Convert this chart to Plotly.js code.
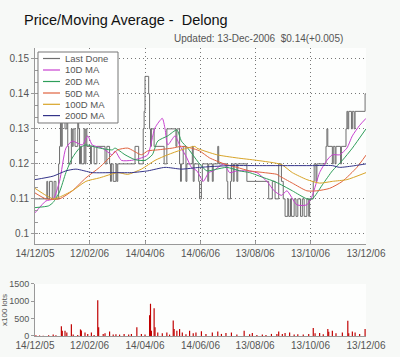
<!DOCTYPE html>
<html><head><meta charset="utf-8">
<script src="https://cdn.plot.ly/plotly-3.0.1.min.js"></script>
<style>html,body{margin:0;padding:0;background:#f7f9f7;}#chart{width:400px;height:357px;}</style>
</head><body><div id="chart"></div>
<script>
// ---- tick labels ----
const tickDates = ['2005-12-14','2006-02-12','2006-04-14','2006-06-14','2006-08-13','2006-10-13','2006-12-13'];
const tickLabels = ['14/12/05','12/02/06','14/04/06','14/06/06','13/08/06','13/10/06','13/12/06'];
const priceTicks = [0.10,0.11,0.12,0.13,0.14,0.15];
const priceTickLabels = ['0.1','0.11','0.12','0.13','0.14','0.15'];
const volTicks = [0,500,1000,1500];
const seriesNames = ['Last Done','10D MA','20D MA','50D MA','100D MA','200D MA'];
const seriesColors = ['#6e6e6e','#c840d0','#2e9e5a','#e0623e','#d8a428','#34348a'];

// ---- Last Done (step series) ----
const priceDates = ['2005-12-14','2005-12-27','2005-12-28','2005-12-30','2006-01-02','2006-01-04','2006-01-06','2006-01-09','2006-01-10','2006-01-11','2006-01-12','2006-01-13','2006-01-16','2006-01-18','2006-01-19','2006-01-20','2006-01-23','2006-01-24','2006-01-25','2006-01-27','2006-01-30','2006-01-31','2006-02-01','2006-02-02','2006-02-03','2006-02-06','2006-02-07','2006-02-08','2006-02-09','2006-02-13','2006-02-14','2006-02-17','2006-02-20','2006-03-01','2006-03-03','2006-03-06','2006-03-07','2006-03-08','2006-03-10','2006-03-13','2006-03-14','2006-03-15','2006-04-03','2006-04-07','2006-04-12','2006-04-13','2006-04-14','2006-04-18','2006-04-19','2006-04-20','2006-04-21','2006-04-24','2006-05-05','2006-05-08','2006-05-18','2006-05-19','2006-05-22','2006-05-23','2006-05-24','2006-05-26','2006-05-29','2006-05-30','2006-06-05','2006-06-06','2006-06-07','2006-06-12','2006-06-13','2006-06-15','2006-06-16','2006-06-22','2006-06-23','2006-06-27','2006-06-28','2006-07-03','2006-07-04','2006-07-13','2006-07-14','2006-07-17','2006-07-18','2006-07-20','2006-07-21','2006-07-24','2006-07-25','2006-08-04','2006-08-28','2006-09-01','2006-09-04','2006-09-08','2006-09-11','2006-09-13','2006-09-15','2006-09-18','2006-09-19','2006-09-21','2006-09-22','2006-09-25','2006-09-27','2006-09-29','2006-10-02','2006-10-04','2006-10-06','2006-10-09','2006-10-11','2006-10-12','2006-10-16','2006-10-17','2006-10-19','2006-10-20','2006-10-25','2006-10-30','2006-10-31','2006-11-01','2006-11-06','2006-11-07','2006-11-09','2006-11-10','2006-11-15','2006-11-16','2006-11-21','2006-11-22','2006-11-23','2006-11-24','2006-11-27','2006-11-28','2006-11-30','2006-12-01','2006-12-12','2006-12-13'];
const priceVals = [0.110,0.115,0.110,0.115,0.110,0.115,0.110,0.120,0.125,0.135,0.125,0.135,0.130,0.135,0.125,0.120,0.130,0.125,0.130,0.125,0.135,0.130,0.120,0.125,0.120,0.130,0.120,0.130,0.125,0.120,0.125,0.120,0.125,0.120,0.125,0.120,0.115,0.120,0.115,0.120,0.115,0.120,0.125,0.120,0.130,0.135,0.145,0.140,0.130,0.125,0.130,0.125,0.120,0.130,0.125,0.130,0.120,0.115,0.120,0.125,0.115,0.120,0.125,0.115,0.120,0.115,0.110,0.115,0.120,0.115,0.120,0.115,0.120,0.125,0.120,0.115,0.110,0.115,0.120,0.115,0.120,0.115,0.120,0.115,0.110,0.115,0.110,0.120,0.115,0.110,0.105,0.110,0.105,0.110,0.105,0.110,0.105,0.110,0.105,0.110,0.105,0.110,0.105,0.110,0.115,0.120,0.115,0.120,0.120,0.125,0.130,0.125,0.120,0.125,0.120,0.125,0.120,0.125,0.130,0.135,0.130,0.135,0.130,0.135,0.130,0.135,0.140,0.140];

// ---- moving averages ----
const ma10Dates = ['2005-12-14','2005-12-26','2006-01-03','2006-01-10','2006-01-17','2006-01-24','2006-02-04','2006-02-10','2006-02-15','2006-02-26','2006-03-09','2006-03-12','2006-03-19','2006-03-30','2006-04-10','2006-04-17','2006-04-25','2006-05-03','2006-05-06','2006-05-09','2006-05-17','2006-05-22','2006-05-30','2006-06-04','2006-06-10','2006-06-17','2006-06-23','2006-06-28','2006-07-10','2006-07-16','2006-07-24','2006-08-04','2006-08-15','2006-08-26','2006-09-03','2006-09-11','2006-09-17','2006-09-28','2006-10-09','2006-10-15','2006-10-23','2006-10-31','2006-11-06','2006-11-14','2006-11-22','2006-11-28','2006-12-06','2006-12-13'];
const ma10Vals = [0.106,0.1094,0.110,0.115,0.1245,0.1265,0.1254,0.128,0.1254,0.1245,0.1226,0.1237,0.121,0.121,0.1217,0.1226,0.1303,0.133,0.130,0.1254,0.128,0.1254,0.1217,0.119,0.118,0.115,0.1175,0.118,0.120,0.1175,0.118,0.118,0.1175,0.115,0.1123,0.111,0.1123,0.1083,0.1083,0.111,0.1175,0.121,0.1226,0.1226,0.1245,0.128,0.131,0.133];

const ma20Dates = ['2005-12-14','2005-12-29','2006-01-03','2006-01-10','2006-01-17','2006-01-24','2006-02-01','2006-02-08','2006-02-23','2006-03-09','2006-03-12','2006-03-23','2006-04-03','2006-04-14','2006-04-22','2006-04-28','2006-05-09','2006-05-19','2006-05-24','2006-05-31','2006-06-08','2006-06-13','2006-06-21','2006-07-02','2006-07-13','2006-07-27','2006-08-07','2006-08-23','2006-09-03','2006-09-11','2006-09-23','2006-10-09','2006-10-15','2006-10-26','2006-11-06','2006-11-17','2006-11-28','2006-12-13'];
const ma20Vals = [0.1075,0.108,0.109,0.112,0.1175,0.1217,0.1245,0.1254,0.1245,0.124,0.1245,0.1226,0.1212,0.121,0.1226,0.1265,0.128,0.1297,0.1265,0.1245,0.1217,0.120,0.118,0.1185,0.119,0.118,0.1175,0.116,0.115,0.114,0.1123,0.110,0.110,0.114,0.118,0.121,0.1245,0.130];

const ma50Dates = ['2005-12-14','2005-12-26','2006-01-10','2006-01-24','2006-02-08','2006-02-23','2006-03-09','2006-03-15','2006-03-26','2006-04-10','2006-04-17','2006-04-28','2006-05-14','2006-05-24','2006-06-04','2006-06-13','2006-06-24','2006-07-10','2006-07-24','2006-08-07','2006-08-23','2006-09-06','2006-09-09','2006-09-23','2006-10-09','2006-10-20','2006-11-03','2006-11-17','2006-12-03','2006-12-13'];
const ma50Vals = [0.1117,0.110,0.110,0.1123,0.116,0.119,0.1226,0.124,0.1245,0.1226,0.1237,0.124,0.1245,0.125,0.1245,0.1237,0.1217,0.120,0.119,0.118,0.1175,0.117,0.1165,0.1145,0.1123,0.1123,0.113,0.115,0.119,0.1225];

const ma100Dates = ['2005-12-14','2005-12-26','2006-01-03','2006-01-10','2006-01-24','2006-02-08','2006-02-23','2006-03-15','2006-03-26','2006-04-10','2006-04-25','2006-05-09','2006-05-24','2006-06-08','2006-06-10','2006-07-02','2006-07-24','2006-08-15','2006-09-11','2006-09-23','2006-10-09','2006-10-23','2006-11-06','2006-11-22','2006-12-13'];
const ma100Vals = [0.113,0.111,0.110,0.1105,0.1123,0.115,0.116,0.1175,0.117,0.1185,0.121,0.1226,0.124,0.125,0.1245,0.1226,0.1217,0.121,0.1198,0.1175,0.1155,0.1145,0.115,0.1155,0.1175];

const ma200Dates = ['2005-12-14','2006-01-03','2006-01-17','2006-01-28','2006-02-15','2006-03-09','2006-03-30','2006-04-17','2006-05-06','2006-05-24','2006-06-13','2006-07-16','2006-08-15','2006-09-15','2006-10-15','2006-11-06','2006-11-14','2006-12-01','2006-12-13'];
const ma200Vals = [0.1155,0.1165,0.118,0.1185,0.1175,0.1175,0.1175,0.118,0.119,0.1185,0.119,0.1195,0.1195,0.1195,0.1195,0.1195,0.119,0.1195,0.120];

// ---- volume (x100 lots) ----
const volDates = ['2005-12-15','2005-12-19','2005-12-23','2005-12-29','2006-01-03','2006-01-06','2006-01-12','2006-01-13','2006-01-16','2006-01-18','2006-01-23','2006-01-25','2006-01-30','2006-02-02','2006-02-03','2006-02-07','2006-02-10','2006-02-14','2006-02-17','2006-02-21','2006-02-22','2006-02-27','2006-03-01','2006-03-06','2006-03-10','2006-03-13','2006-03-17','2006-03-22','2006-03-27','2006-03-30','2006-04-05','2006-04-10','2006-04-14','2006-04-19','2006-04-20','2006-04-21','2006-04-24','2006-04-25','2006-04-28','2006-05-03','2006-05-08','2006-05-11','2006-05-15','2006-05-16','2006-05-19','2006-05-22','2006-05-25','2006-05-29','2006-06-02','2006-06-06','2006-06-09','2006-06-15','2006-06-20','2006-06-27','2006-07-03','2006-07-07','2006-07-12','2006-07-18','2006-07-24','2006-08-01','2006-08-07','2006-08-10','2006-08-15','2006-08-21','2006-08-25','2006-08-31','2006-09-06','2006-09-08','2006-09-12','2006-09-15','2006-09-20','2006-09-25','2006-09-29','2006-10-05','2006-10-11','2006-10-16','2006-10-18','2006-10-23','2006-10-27','2006-11-01','2006-11-02','2006-11-06','2006-11-10','2006-11-17','2006-11-23','2006-11-24','2006-11-28','2006-12-01','2006-12-06','2006-12-12'];
const volVals = [20,15,10,20,40,25,280,150,150,100,340,40,30,190,160,100,60,100,30,1030,250,60,80,130,40,50,40,60,40,60,250,60,40,600,930,150,800,250,100,80,100,40,450,200,150,200,100,50,150,80,100,135,60,100,130,60,85,100,40,150,50,85,30,40,30,60,60,130,60,90,100,40,50,40,60,230,80,85,50,200,120,150,80,100,440,80,130,100,60,200];

const font = 'Liberation Sans, Arial, sans-serif';
const tickFont = {family: font, size: 10, color: '#555'};
const range = ['2005-12-14','2006-12-13'];
const yRange = [0.0971, 0.1531];
const dotted = '1px,3px';

const traces = [
  {x: priceDates, y: priceVals, line: {shape: 'hv'}},
  {x: ma10Dates, y: ma10Vals},
  {x: ma20Dates, y: ma20Vals},
  {x: ma50Dates, y: ma50Vals},
  {x: ma100Dates, y: ma100Vals},
  {x: ma200Dates, y: ma200Vals}
].map((t, i) => ({
  x: t.x, y: t.y, name: seriesNames[i], type: 'scatter', mode: 'lines',
  line: Object.assign({color: seriesColors[i], width: 1, shape: 'spline', smoothing: 0.6}, t.line || {}),
  xaxis: 'x', yaxis: 'y', showlegend: false
}));
traces.push({x: volDates, y: volVals, name: 'Volume', type: 'bar', showlegend: false, marker: {color: '#c00000', line: {width: 0}}, width: 86400000 * 1.3, xaxis: 'x2', yaxis: 'y2'});

// manual legend box (drawn above the plot like the original)
const shapes = [{type: 'rect', xref: 'paper', yref: 'paper', x0: 0.00906, x1: 0.2508, y0: 0.7396, y1: 0.9861, fillcolor: '#ffffff', line: {color: '#777', width: 1}, layer: 'above'}];
const annotations = [
  {text: 'Updated: 13-Dec-2006  $0.14(+0.005)', xref: 'paper', yref: 'paper', x: 0.9366, xanchor: 'right', y: 1.0347, yanchor: 'middle', showarrow: false, font: {family: font, size: 10, color: '#555'}}
];
const legendRowsPx = [58.5, 70, 81.5, 93, 104.3, 115.6];
seriesNames.forEach((n, i) => {
  const yp = (336 - legendRowsPx[i]) / 288;
  shapes.push({type: 'line', xref: 'paper', yref: 'paper', x0: 0.0242, x1: 0.0755, y0: yp, y1: yp, line: {color: seriesColors[i], width: 1.2}, layer: 'above'});
  annotations.push({text: n, xref: 'paper', yref: 'paper', x: 0.0846, xanchor: 'left', y: yp, yanchor: 'middle', showarrow: false, font: {family: font, size: 9.5, color: '#555'}});
});

const layout = {
  width: 400, height: 357, autosize: false,
  margin: {l: 35, r: 34, t: 48, b: 21},
  paper_bgcolor: '#f7f9f7', plot_bgcolor: '#fdfefd',
  font: {family: font, color: '#555'},
  showlegend: false,
  title: {text: 'Price/Moving Average -  Delong', x: 24/400, xanchor: 'left', xref: 'container', y: 1 - 20/357, yanchor: 'middle', yref: 'container', font: {family: font, size: 14.5, color: '#111'}},
  xaxis: {domain: [0, 1], anchor: 'y', type: 'date', range: range, tickvals: tickDates, ticktext: tickLabels, tickfont: tickFont, showgrid: true, gridcolor: '#777', griddash: dotted, gridwidth: 1, showline: true, linecolor: '#999', ticks: 'inside', ticklen: 3, tickcolor: '#999', zeroline: false, layer: 'below traces'},
  yaxis: {domain: [0.3194, 1], anchor: 'x', range: yRange, tickvals: priceTicks, ticktext: priceTickLabels, tickfont: tickFont, showgrid: true, gridcolor: '#777', griddash: dotted, gridwidth: 1, showline: true, linecolor: '#999', ticks: 'outside', ticklen: 3, tickcolor: '#999', zeroline: false,
    minor: {tick0: 0.1, dtick: 0.01/3, ticks: 'inside', ticklen: 3, tickcolor: '#999', showgrid: false}},
  yaxis3: {overlaying: 'y', side: 'right', anchor: 'x', range: yRange, tick0: 0.1, dtick: 0.01/3, showticklabels: false, ticks: 'inside', ticklen: 4, tickcolor: '#999', showline: true, linecolor: '#999', showgrid: false, zeroline: false},
  xaxis2: {domain: [0, 1], anchor: 'y2', type: 'date', range: range, tickvals: tickDates, ticktext: tickLabels, tickfont: tickFont, showgrid: false, showline: true, linecolor: '#999', ticks: '', zeroline: false},
  yaxis2: {domain: [0, 0.1806], anchor: 'x2', range: [0, 1500], tickvals: volTicks, tickfont: {family: font, size: 9, color: '#555'}, showgrid: false, showline: true, linecolor: '#999', ticks: 'outside', ticklen: 3, tickcolor: '#999', zeroline: false,
    title: {text: 'x100 lots', font: {family: font, size: 8, color: '#555'}, standoff: 2}},
  shapes: shapes,
  annotations: annotations
};

Plotly.newPlot('chart', traces, layout, {displayModeBar: false, staticPlot: true});
</script>
</body></html>
